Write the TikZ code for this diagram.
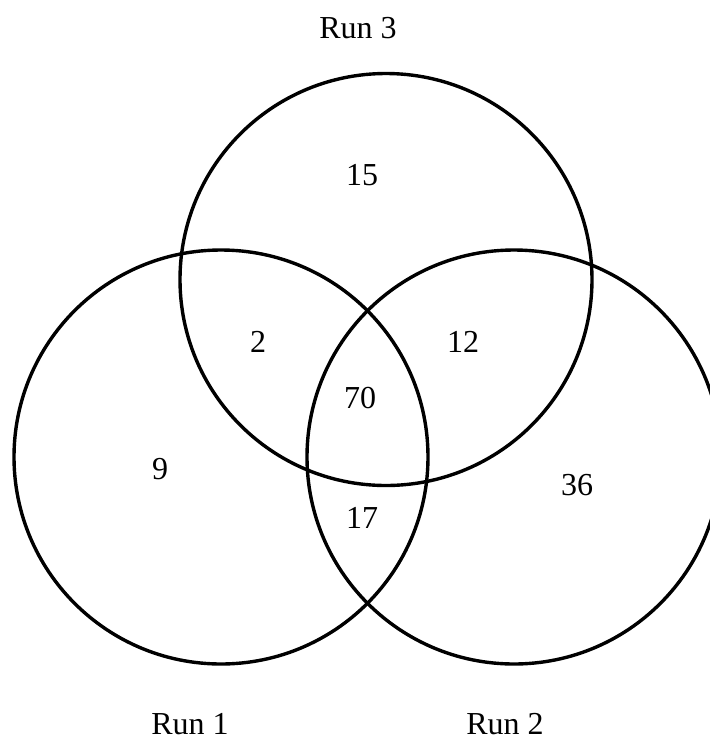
\documentclass[tikz,border=0pt]{standalone}
\usepackage{fontspec}
\setmainfont{Liberation Serif}
\begin{document}
\begin{tikzpicture}[x=1pt,y=-1pt,
  setc/.style={circle, draw=black, line width=3.4pt, inner sep=0pt, outer sep=0pt, minimum size=#1},
  lbl/.style={inner sep=0pt, font=\fontsize{32}{38}\selectfont}]
\useasboundingbox (0,0) rectangle (710,740);
\clip (0,0) rectangle (710,740);
\fill[white] (0,0) rectangle (710,740);
\node[setc=412pt] (run3) at (386,279.5) {};
\node[setc=414pt] (run1) at (221,457) {};
\node[setc=414pt] (run2) at (514,457) {};
\node[lbl] (t3) at (358,28) {Run 3};
\node[lbl] (t1) at (190,724) {Run 1};
\node[lbl] (t2) at (505,724) {Run 2};
\node[lbl] (n15) at (362,175) {15};
\node[lbl] (n2) at (258,342) {2};
\node[lbl] (n12) at (463,342) {12};
\node[lbl] (n70) at (360,398) {70};
\node[lbl] (n9) at (160,469) {9};
\node[lbl] (n17) at (362,518) {17};
\node[lbl] (n36) at (577,485) {36};
\end{tikzpicture}
\end{document}
